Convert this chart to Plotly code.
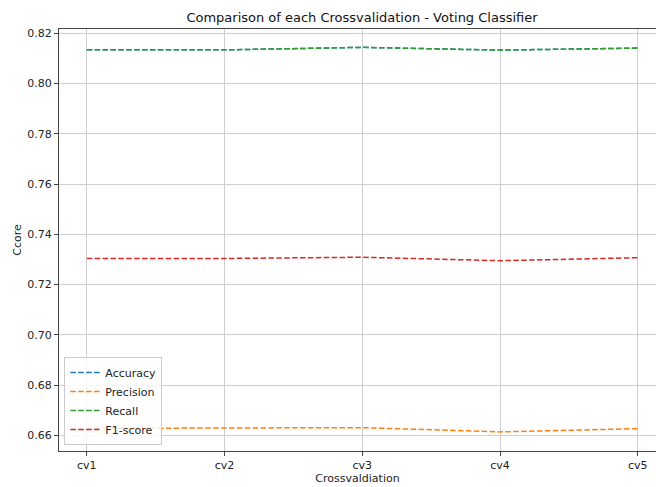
import plotly.graph_objects as go

folds = ["cv1", "cv2", "cv3", "cv4", "cv5"]
accuracy = [0.8134, 0.8134, 0.8144, 0.8133, 0.8141]
precision = [0.6628, 0.6628, 0.6631, 0.6614, 0.6627]
recall = [0.8134, 0.8134, 0.8144, 0.8133, 0.8141]
f1_score = [0.7304, 0.7304, 0.7309, 0.7295, 0.7307]

series = [
    ("Accuracy", accuracy, "#1f77b4"),
    ("Precision", precision, "#ff7f0e"),
    ("Recall", recall, "#2ca02c"),
    ("F1-score", f1_score, "#d62728"),
]

FONT = "DejaVu Sans"
W, H = 656, 487
L, T, B, R = 59, 29, 36, 0

fig = go.Figure()
for name, vals, color in series:
    fig.add_trace(go.Scatter(
        x=folds, y=vals, mode="lines", name=name,
        line=dict(color=color, width=1.5, dash="5.5px,2.4px"),
    ))

fig.update_layout(
    width=W, height=H,
    margin=dict(l=L, r=R, t=T, b=B, pad=0),
    paper_bgcolor="white", plot_bgcolor="white",
    font=dict(family=FONT, size=11, color="#222"),
    title=dict(
        text="Comparison of each Crossvalidation - Voting Classifier",
        font=dict(family=FONT, size=13, color="#111"),
        xref="paper", x=(362 - L) / (W - L - R), xanchor="center",
        yref="container", y=1 - 17 / H, yanchor="middle",
    ),
    showlegend=True,
    legend=dict(
        x=0.009, y=0.014, xanchor="left", yanchor="bottom",
        bgcolor="rgba(255,255,255,0.8)", bordercolor="#cccccc", borderwidth=1,
        font=dict(family=FONT, size=11, color="#222"),
        itemwidth=30, tracegroupgap=0,
    ),
)

fig.update_xaxes(
    type="category", range=[-0.2014, 4.132],
    showgrid=True, gridcolor="#cfcfcf", gridwidth=1,
    showline=True, linecolor="#444", linewidth=1, mirror=True,
    ticks="outside", ticklen=4, tickcolor="#444",
    tickfont=dict(family=FONT, size=11, color="#222"),
    title=dict(text="Crossvaldiation", font=dict(family=FONT, size=11, color="#222"), standoff=3),
    zeroline=False,
)
fig.update_yaxes(
    range=[0.6538, 0.8217],
    tickvals=[0.66, 0.68, 0.70, 0.72, 0.74, 0.76, 0.78, 0.80, 0.82],
    tickformat=".2f",
    showgrid=True, gridcolor="#cfcfcf", gridwidth=1,
    showline=True, linecolor="#444", linewidth=1, mirror=False,
    ticks="outside", ticklen=4, tickcolor="#444",
    tickfont=dict(family=FONT, size=11, color="#222"),
    title=dict(text="Ccore", font=dict(family=FONT, size=11, color="#222"), standoff=3),
    zeroline=False,
)

fig.write_html("out.html")
